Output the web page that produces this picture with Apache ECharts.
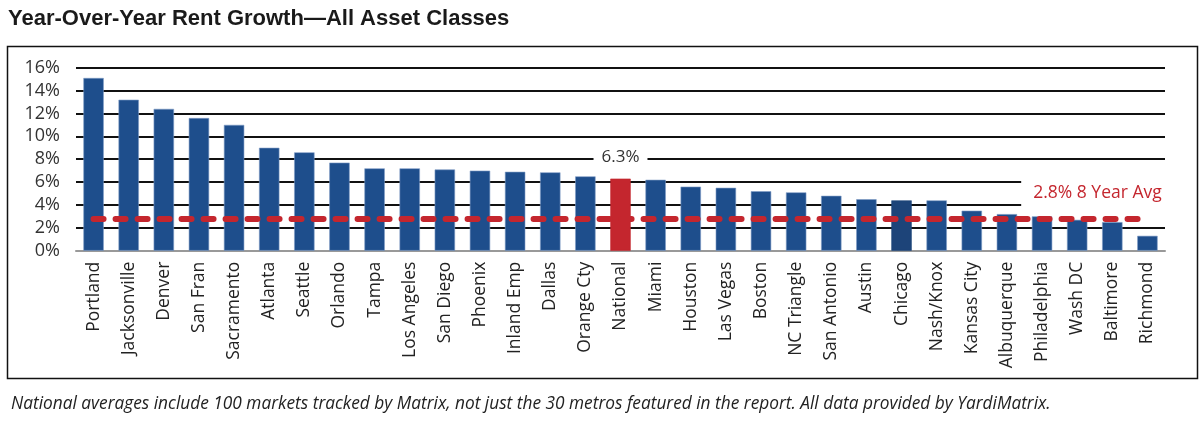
<!DOCTYPE html>
<html>
<head>
<meta charset="utf-8">
<script src="https://cdn.jsdelivr.net/npm/echarts@6/dist/echarts.min.js"></script>
<style>
  html, body { margin: 0; padding: 0; background: #fff; }
  #chart { width: 1202px; height: 430px; }
</style>
</head>
<body>
<div id="chart"></div>
<script>
const categories = ["Portland","Jacksonville","Denver","San Fran","Sacramento","Atlanta","Seattle","Orlando","Tampa","Los Angeles","San Diego","Phoenix","Inland Emp","Dallas","Orange Cty","National","Miami","Houston","Las Vegas","Boston","NC Triangle","San Antonio","Austin","Chicago","Nash/Knox","Kansas City","Albuquerque","Philadelphia","Wash DC","Baltimore","Richmond"];
const growth = [15.1,13.2,12.4,11.6,11.0,9.0,8.6,7.7,7.2,7.2,7.1,7.0,6.9,6.85,6.5,6.3,6.2,5.6,5.5,5.2,5.1,4.8,4.5,4.4,4.4,3.5,3.2,3.0,2.7,2.5,1.3];
const avg8yr = 2.8;
const yTicks = [0,2,4,6,8,10,12,14,16];
const titleText = "Year-Over-Year Rent Growth\u2014All Asset Classes";
const footnote = "National averages include 100 markets tracked by Matrix, not just the 30 metros featured in the report. All data provided by YardiMatrix.";

const BLUE = '#1e4e8c', RED = '#c4262e', CHICAGO = '#1d4479';

const barData = growth.map((v, i) => {
  const c = categories[i];
  if (c === 'National') {
    return {
      value: v,
      itemStyle: { color: RED, borderColor: RED },
      label: {
        show: true, position: 'top', distance: 10,
        formatter: v.toFixed(1) + '%',
        fontFamily: 'Open Sans', fontSize: 17, color: '#333',
        backgroundColor: '#fff', padding: [3, 8]
      }
    };
  }
  if (c === 'Chicago') return { value: v, itemStyle: { color: CHICAGO, borderColor: CHICAGO } };
  return v;
});

const chart = echarts.init(document.getElementById('chart'));
chart.setOption({
  animation: false,
  backgroundColor: '#fff',
  title: [{
    text: titleText, left: 3, top: 3,
    textStyle: { fontFamily: 'Liberation Sans', fontWeight: 'bold', fontSize: 22, color: '#1a1a1a' }
  }, {
    text: footnote, left: 6, top: 391,
    textStyle: { fontFamily: 'Open Sans', fontStyle: 'italic', fontWeight: 'normal', fontSize: 17.3, color: '#222' }
  }],
  graphic: [{
    type: 'rect', left: 5, top: 44, z: -10,
    shape: { width: 1190, height: 332 },
    style: { fill: 'none', stroke: '#111', lineWidth: 1.5 }
  }],
  grid: { left: 76, right: 37, top: 67.7, bottom: 179.3 },
  xAxis: {
    type: 'category', data: categories,
    axisLine: { show: true, lineStyle: { color: '#999', width: 2 } },
    axisTick: { show: false },
    axisLabel: {
      rotate: 90, interval: 0, margin: 11,
      fontFamily: 'Open Sans', fontSize: 17.5, color: '#222'
    }
  },
  yAxis: {
    type: 'value', min: 0, max: 16, interval: 2,
    axisLine: { show: false }, axisTick: { show: false },
    axisLabel: {
      margin: 16, fontFamily: 'Open Sans', fontSize: 18, color: '#333',
      formatter: v => yTicks.includes(v) ? v + '%' : ''
    },
    splitLine: { show: true, lineStyle: { color: '#111', width: 2 } }
  },
  series: [{
    type: 'bar', data: barData, barCategoryGap: '42%',
    itemStyle: { color: BLUE, borderColor: '#7f9cc6', borderWidth: 0.6 },
    markLine: {
      silent: true, symbol: ['none', 'none'],
      lineStyle: { color: RED, width: 6, type: [10, 12], cap: 'round' },
      label: { show: false },
      data: [[{ coord: [0, avg8yr] }, { coord: [categories.length - 1, avg8yr] }]]
    },
    markPoint: {
      silent: true, symbol: 'circle', symbolSize: 0,
      data: [{ coord: [categories.length - 1, avg8yr] }],
      label: {
        show: true, position: 'inside', offset: [-50, -26],
        formatter: avg8yr.toFixed(1) + '% 8 Year Avg',
        fontFamily: 'Open Sans', fontSize: 17.5, color: RED,
        backgroundColor: '#fff', padding: [6, 12], lineHeight: 17
      }
    }
  }]
});
</script>
</body>
</html>
